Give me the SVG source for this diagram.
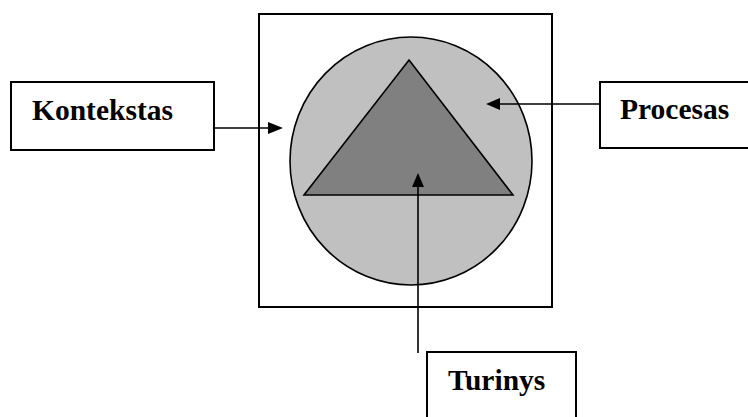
<svg xmlns="http://www.w3.org/2000/svg" width="748" height="417" viewBox="0 0 748 417">
<style>
.box{fill:#fff;stroke:#000;stroke-width:2}
.lbl{font-family:"Liberation Serif","Times New Roman",serif;font-weight:bold;font-size:29.5px;fill:#000}
.conn{stroke:#000;stroke-width:1.6;fill:none}
.head{fill:#000}
</style>
<rect width="748" height="417" fill="#fff"/>
<g id="frame">
<rect x="259" y="14" width="293" height="293" fill="none" stroke="#000" stroke-width="2"/>
</g>
<g id="circle">
<ellipse cx="411" cy="161" rx="121" ry="124" fill="#c0c0c0" stroke="#000" stroke-width="1.6"/>
</g>
<g id="triangle">
<polygon points="409,60 513,195 304,195" fill="#808080" stroke="#000" stroke-width="1.6"/>
</g>
<g id="kontekstas">
<rect class="box" x="11" y="82" width="203" height="68"/>
<text class="lbl" x="32" y="120">Kontekstas</text>
</g>
<g id="procesas">
<rect class="box" x="600" y="82" width="160" height="66"/>
<text class="lbl" x="620" y="119">Procesas</text>
</g>
<g id="turinys">
<rect class="box" x="427" y="352" width="149" height="80"/>
<text class="lbl" x="448" y="390">Turinys</text>
</g>
<g id="connectors">
<line class="conn" x1="214" y1="128" x2="270" y2="128"/>
<polygon class="head" points="283,128 268,122 268,134"/>
<line class="conn" x1="600" y1="104" x2="498" y2="104"/>
<polygon class="head" points="486,104 500,98 500,110"/>
<line class="conn" x1="418" y1="353" x2="418" y2="185"/>
<polygon class="head" points="418,173 412,187 424,187"/>
</g>
</svg>
